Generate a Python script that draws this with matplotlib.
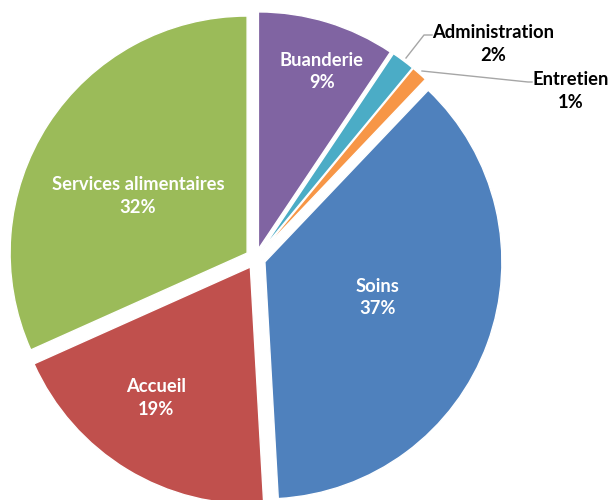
import numpy as np
import matplotlib
matplotlib.use('Agg')
import matplotlib.pyplot as plt

labels = ['Buanderie', 'Administration', 'Entretien', 'Soins', 'Accueil', 'Services alimentaires']
values = [9.4, 1.6, 1.1, 37.0, 19.2, 31.7]
colors = ['#8064A2', '#4BACC6', '#F79646', '#4F81BD', '#C0504D', '#9BBB59']

plt.rcParams['font.family'] = ['Lato', 'DejaVu Sans']

fig = plt.figure(figsize=(6.1, 5.0), dpi=100)
ax = fig.add_axes([0, 0, 1, 1])
ax.axis('off')

cx, cy, R = 255.5, 241.5, 237
# explode is in data units here (pixels)
wedges, _ = ax.pie(values, colors=colors, startangle=90, counterclock=False,
                   explode=[10] * len(values), center=(cx, cy), radius=R,
                   wedgeprops=dict(linewidth=1, edgecolor='white'))
ax.set_xlim(0, 610)
ax.set_ylim(0, 500)
ax.set_aspect('equal')

pct = ['%.0f%%' % v for v in values]
fs = 13.2

# labels inside the big slices (distance as fraction of radius, angle tweak)
inside = {0: (0.795, -2.7), 3: (0.50, 2.6), 4: (0.68, -4.4), 5: (0.52, 5.4)}
for i, (frac, dang) in inside.items():
    w = wedges[i]
    a = np.deg2rad((w.theta1 + w.theta2) / 2 + dang)
    x = w.center[0] + frac * R * np.cos(a)
    y = w.center[1] + frac * R * np.sin(a)
    ax.text(x, y, labels[i] + '\n' + pct[i], color='white', fontsize=fs,
            fontweight='bold', ha='center', va='center', linespacing=1.4)

# small slices: labels outside with leader lines
outside = {1: ((406, 442), (424, 465), (432, 465)),
           2: ((422, 429), (528, 418), (532, 418))}
for i, (p0, p1, p2) in outside.items():
    ax.plot([p0[0], p1[0], p2[0]], [p0[1], p1[1], p2[1]], color='#A6A6A6', lw=1)
ax.text(493, 456, labels[1] + '\n' + pct[1], color='black', fontsize=fs,
        fontweight='bold', ha='center', va='center', linespacing=1.4)
ax.text(571, 409, labels[2] + '\n' + pct[2], color='black', fontsize=fs,
        fontweight='bold', ha='center', va='center', linespacing=1.4)

fig.savefig('out.png', dpi=100)
